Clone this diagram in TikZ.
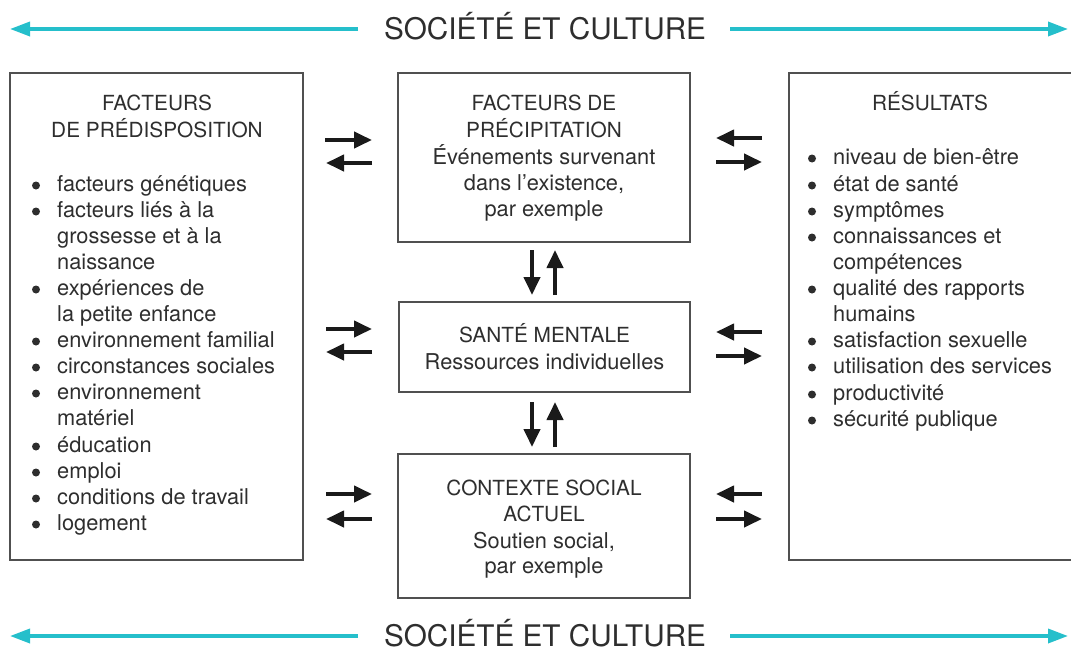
\documentclass[tikz,border=0pt]{standalone}
\usepackage{fontspec}
\setmainfont{TeX Gyre Heros}
\usetikzlibrary{arrows.meta}
\definecolor{tealc}{HTML}{25BFCB}
\definecolor{txt}{HTML}{2E2E2E}
\definecolor{framec}{HTML}{505050}
\definecolor{arr}{HTML}{1A1A1A}
\begin{document}
\begin{tikzpicture}[x=1pt,y=-1pt,
  boxst/.style={draw=framec,line width=1.3pt,inner sep=0pt},
  body/.style={inner sep=0pt,text=txt,font=\fontsize{21.8}{26}\selectfont,anchor=base west},
  bodyc/.style={inner sep=0pt,text=txt,font=\fontsize{21.8}{26}\selectfont,anchor=base},
  ttl/.style={inner sep=0pt,text=txt,font=\fontsize{20.8}{26}\selectfont,anchor=base},
  big/.style={inner sep=0pt,text=txt,font=\fontsize{29.7}{34}\selectfont,anchor=base},
  bul/.style={fill=txt,draw=none},
  blk/.style={draw=arr,line width=4pt,-{Triangle[length=18pt,width=16pt]}},
  tl/.style={draw=tealc,line width=3.5pt,-{Triangle[length=20pt,width=14pt]}}]
\useasboundingbox (0,0) rectangle (1071,651);

% teal arrows
\node[big] (soc1) at (545,39.5) {SOCIÉTÉ ET CULTURE};
\node[big] (soc2) at (545,646.5) {SOCIÉTÉ ET CULTURE};
\draw[tl] (358,29) -- (10,29);
\draw[tl] (730,29) -- (1068,29);
\draw[tl] (358,636) -- (10,636);
\draw[tl] (730,636) -- (1068,636);

% boxes
\node[boxst,minimum width=293pt,minimum height=487pt] (pred) at (156.5,316.5) {};
\node[boxst,minimum width=292pt,minimum height=169pt] (prec) at (544,157.5) {};
\node[boxst,minimum width=291pt,minimum height=90pt] (sante) at (544.5,347) {};
\node[boxst,minimum width=292pt,minimum height=144pt] (ctx) at (544,526) {};
\draw[draw=framec,line width=1.3pt] (1075,73) -| (789,560) -- (1075,560);

% left box text
\node[ttl] (p1) at (157,110.5) {FACTEURS};
\node[ttl] (p2) at (157,137.5) {DE PRÉDISPOSITION};
\foreach \yy/\tt/\bb in {184/facteurs génétiques/1, 210/facteurs liés à la/1, 236/grossesse et à la/0, 262/naissance/0, 288/expériences de/1, 314/la petite enfance/0, 340/environnement familial/1, 366/circonstances sociales/1, 392/environnement/1, 418/matériel/0, 445/éducation/1, 471/emploi/1, 497/conditions de travail/1, 523/logement/1}{
  \node[body] at (57,\yy+7.5) {\tt};
  \ifnum\bb=1 \path[bul] (36,\yy+1.5) circle (4pt);\fi
}

% right box text
\node[ttl] (r1) at (930,110.5) {RÉSULTATS};
\foreach \yy/\tt/\bb in {157/niveau de bien-être/1, 184/état de santé/1, 210/symptômes/1, 236/connaissances et/1, 262/compétences/0, 288/qualité des rapports/1, 314/humains/0, 340/satisfaction sexuelle/1, 366/utilisation des services/1, 393/productivité/1, 419/sécurité publique/1}{
  \node[body] at (833,\yy+7.5) {\tt};
  \ifnum\bb=1 \path[bul] (812,\yy+1.5) circle (4pt);\fi
}

% middle boxes text
\node[ttl] (m1) at (544,110.5) {FACTEURS DE};
\node[ttl] (m2) at (544,137.5) {PRÉCIPITATION};
\node[bodyc] (m3) at (544,164.5) {Événements survenant};
\node[bodyc] (m4) at (544,190.5) {dans l’existence,};
\node[bodyc] (m5) at (544,216.5) {par exemple};

\node[ttl] (s1) at (544.5,342.5) {SANTÉ MENTALE};
\node[bodyc] (s2) at (544.5,369.5) {Ressources individuelles};

\node[ttl] (c1) at (544,495.5) {CONTEXTE SOCIAL};
\node[ttl] (c2) at (544,521.5) {ACTUEL};
\node[bodyc] (c3) at (544,548.5) {Soutien social,};
\node[bodyc] (c4) at (544,573.5) {par exemple};

% black arrows left
\draw[blk] (325,140) -- (372,140);
\draw[blk] (372,163) -- (326,163);
\draw[blk] (326,329) -- (372,329);
\draw[blk] (372,352) -- (326,352);
\draw[blk] (326,494) -- (372,494);
\draw[blk] (372,519) -- (326,519);
% black arrows right
\draw[blk] (762,138) -- (716,138);
\draw[blk] (716,162) -- (762,162);
\draw[blk] (762,332) -- (716,332);
\draw[blk] (716,356) -- (762,356);
\draw[blk] (762,494) -- (716,494);
\draw[blk] (716,519) -- (762,519);
% vertical arrows
\draw[blk] (532,250) -- (532,295);
\draw[blk] (555,295) -- (555,250);
\draw[blk] (532,402) -- (532,447);
\draw[blk] (555,447) -- (555,402);
\end{tikzpicture}
\end{document}
